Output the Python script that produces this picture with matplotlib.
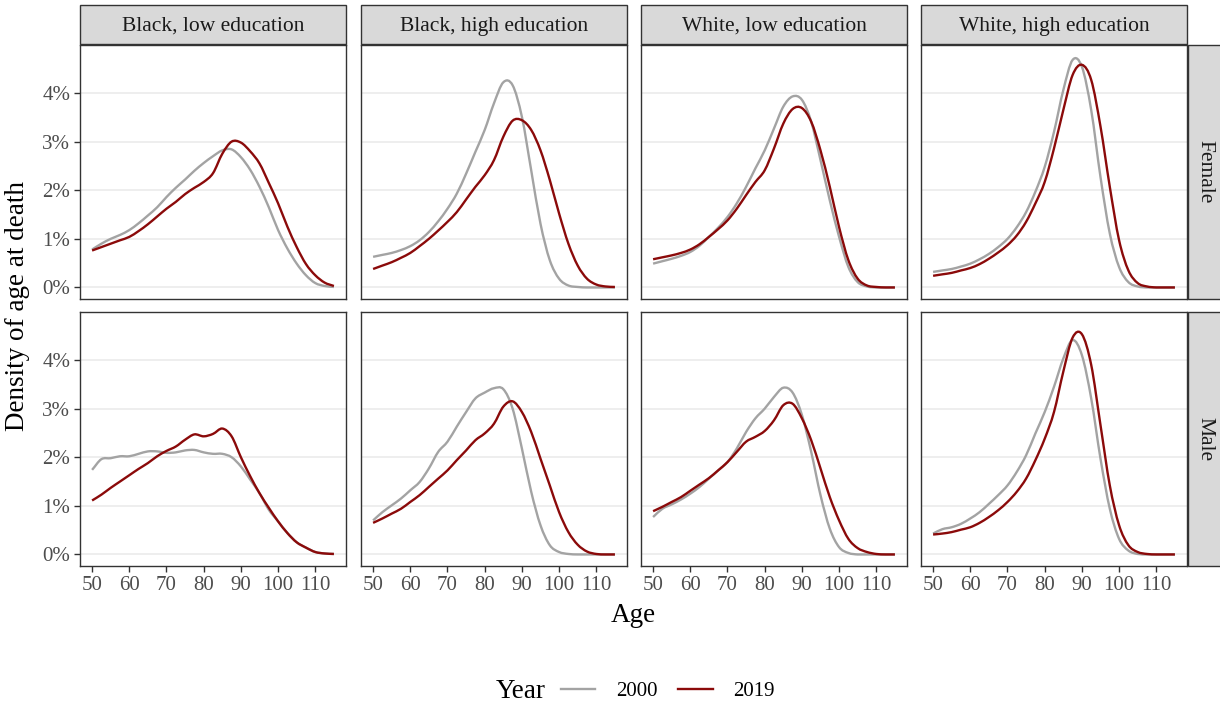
import matplotlib
matplotlib.use('Agg')
import matplotlib.pyplot as plt
from matplotlib.patches import Rectangle, PathPatch
from matplotlib.path import Path
from matplotlib.lines import Line2D
from matplotlib.ticker import FuncFormatter

plt.rcParams['font.family'] = ['Liberation Serif', 'DejaVu Serif']

ages = [50, 52.5, 55, 57.5, 60, 62.5, 65, 67.5, 70, 72.5, 75, 77.5, 80, 82.5,
        85, 87.5, 90, 92.5, 95, 97.5, 100, 102.5, 105, 107.5, 110, 112.5, 115]

groups = ['Black, low education', 'Black, high education',
          'White, low education', 'White, high education']
sexes = ['Female', 'Male']
years = ['2000', '2019']

# density of age at death, in percent
female_2000 = [
    [0.78, 0.90, 1.00, 1.08, 1.18, 1.32, 1.48, 1.65, 1.86, 2.05, 2.22, 2.40, 2.56, 2.70,
     2.82, 2.84, 2.68, 2.42, 2.07, 1.65, 1.18, 0.80, 0.49, 0.25, 0.09, 0.03, 0.01],
    [0.63, 0.67, 0.71, 0.77, 0.85, 0.97, 1.14, 1.36, 1.62, 1.93, 2.34, 2.79, 3.24, 3.79,
     4.22, 4.16, 3.51, 2.41, 1.31, 0.56, 0.18, 0.04, 0.01, 0.00, 0.00, 0.00, 0.00],
    [0.49, 0.54, 0.59, 0.65, 0.73, 0.86, 1.04, 1.23, 1.45, 1.73, 2.07, 2.45, 2.82, 3.27,
     3.72, 3.93, 3.86, 3.41, 2.62, 1.79, 1.04, 0.42, 0.11, 0.02, 0.00, 0.00, 0.00],
    [0.32, 0.35, 0.38, 0.43, 0.49, 0.58, 0.69, 0.83, 1.00, 1.24, 1.55, 1.97, 2.48, 3.20,
     4.06, 4.68, 4.54, 3.65, 2.27, 1.11, 0.42, 0.11, 0.02, 0.00, 0.00, 0.00, 0.00],
]
female_2019 = [
    [0.76, 0.83, 0.90, 0.97, 1.04, 1.16, 1.30, 1.46, 1.62, 1.76, 1.92, 2.05, 2.17, 2.35,
     2.75, 3.00, 2.98, 2.80, 2.55, 2.15, 1.73, 1.25, 0.83, 0.48, 0.25, 0.10, 0.03],
    [0.38, 0.45, 0.52, 0.61, 0.71, 0.85, 1.00, 1.17, 1.35, 1.55, 1.81, 2.07, 2.31, 2.62,
     3.10, 3.43, 3.44, 3.24, 2.82, 2.21, 1.52, 0.90, 0.45, 0.18, 0.06, 0.02, 0.01],
    [0.58, 0.62, 0.66, 0.71, 0.78, 0.89, 1.04, 1.20, 1.38, 1.62, 1.90, 2.17, 2.41, 2.86,
     3.37, 3.67, 3.69, 3.41, 2.82, 2.07, 1.24, 0.56, 0.18, 0.04, 0.01, 0.00, 0.00],
    [0.24, 0.27, 0.30, 0.35, 0.40, 0.48, 0.59, 0.72, 0.87, 1.07, 1.35, 1.73, 2.17, 2.86,
     3.65, 4.37, 4.58, 4.27, 3.31, 2.07, 0.97, 0.35, 0.09, 0.02, 0.00, 0.00, 0.00],
]
male_2000 = [
    [1.74, 1.96, 1.98, 2.02, 2.02, 2.07, 2.12, 2.12, 2.09, 2.10, 2.14, 2.15, 2.10, 2.07,
     2.07, 2.00, 1.81, 1.54, 1.26, 0.92, 0.68, 0.44, 0.25, 0.14, 0.05, 0.02, 0.01],
    [0.70, 0.87, 1.01, 1.15, 1.32, 1.49, 1.77, 2.11, 2.32, 2.63, 2.93, 3.21, 3.33, 3.42,
     3.40, 3.00, 2.18, 1.29, 0.60, 0.19, 0.05, 0.01, 0.00, 0.00, 0.00, 0.00, 0.00],
    [0.77, 0.94, 1.03, 1.13, 1.25, 1.39, 1.56, 1.73, 1.90, 2.18, 2.52, 2.80, 3.00, 3.24,
     3.43, 3.33, 2.87, 2.11, 1.22, 0.53, 0.15, 0.03, 0.00, 0.00, 0.00, 0.00, 0.00],
    [0.43, 0.52, 0.56, 0.63, 0.74, 0.87, 1.04, 1.22, 1.42, 1.70, 2.04, 2.49, 2.93, 3.45,
     4.03, 4.41, 4.10, 3.21, 1.97, 0.94, 0.32, 0.08, 0.01, 0.00, 0.00, 0.00, 0.00],
]
male_2019 = [
    [1.11, 1.23, 1.37, 1.50, 1.63, 1.76, 1.88, 2.02, 2.13, 2.22, 2.36, 2.47, 2.43, 2.48,
     2.59, 2.43, 2.00, 1.61, 1.26, 0.96, 0.68, 0.44, 0.25, 0.14, 0.05, 0.02, 0.01],
    [0.65, 0.74, 0.84, 0.94, 1.08, 1.22, 1.39, 1.56, 1.73, 1.94, 2.14, 2.35, 2.49, 2.69,
     3.04, 3.15, 2.93, 2.52, 1.97, 1.42, 0.87, 0.46, 0.20, 0.06, 0.01, 0.00, 0.00],
    [0.89, 0.98, 1.08, 1.18, 1.31, 1.44, 1.57, 1.73, 1.90, 2.11, 2.32, 2.42, 2.54, 2.76,
     3.07, 3.10, 2.80, 2.35, 1.77, 1.18, 0.70, 0.32, 0.13, 0.05, 0.01, 0.00, 0.00],
    [0.41, 0.43, 0.46, 0.51, 0.56, 0.65, 0.77, 0.91, 1.08, 1.29, 1.56, 1.94, 2.38, 2.93,
     3.76, 4.46, 4.53, 3.90, 2.66, 1.42, 0.60, 0.19, 0.05, 0.01, 0.00, 0.00, 0.00],
]

data = {('Female', '2000'): female_2000, ('Female', '2019'): female_2019,
        ('Male', '2000'): male_2000, ('Male', '2019'): male_2019}
colors = {'2000': '#A3A3A3', '2019': '#8B0A0A'}


def smooth_path(x, y):
    # catmull-rom style bezier through the points
    n = len(x)
    m = [(y[1] - y[0]) / (x[1] - x[0])]
    for k in range(1, n - 1):
        m.append((y[k + 1] - y[k - 1]) / (x[k + 1] - x[k - 1]))
    m.append((y[-1] - y[-2]) / (x[-1] - x[-2]))
    verts = [(x[0], y[0])]
    codes = [Path.MOVETO]
    for k in range(n - 1):
        h = x[k + 1] - x[k]
        verts += [(x[k] + h / 3, max(0.0, y[k] + m[k] * h / 3)),
                  (x[k + 1] - h / 3, max(0.0, y[k + 1] - m[k + 1] * h / 3)),
                  (x[k + 1], y[k + 1])]
        codes += [Path.CURVE4] * 3
    return Path(verts, codes)


W, H = 1220, 707
fig = plt.figure(figsize=(W / 100, H / 100), dpi=100)


def box(l, t, w, h):
    return [l / W, 1 - (t + h) / H, w / W, h / H]


lefts = [80, 361, 641, 921]
tops = [45, 312]
pw, ph = 266, 254
border = '#333333'

for r, sex in enumerate(sexes):
    for c, grp in enumerate(groups):
        ax = fig.add_axes(box(lefts[c], tops[r], pw, ph))
        for yr in years:
            ax.add_patch(PathPatch(smooth_path(ages, data[(sex, yr)][c]), fill=False,
                                   edgecolor=colors[yr], lw=1.7))
        ax.set_xlim(46.75, 118.25)
        ax.set_ylim(-0.2375, 4.9875)
        ax.set_yticks([0, 1, 2, 3, 4])
        ax.set_xticks([50, 60, 70, 80, 90, 100, 110])
        ax.yaxis.set_major_formatter(FuncFormatter(lambda v, p: f'{v:.0f}%'))
        ax.grid(axis='y', color='#EBEBEB', lw=1.2)
        ax.set_axisbelow(True)
        for s in ax.spines.values():
            s.set_color(border)
            s.set_linewidth(1.0)
        ax.tick_params(colors=border, labelcolor='#4D4D4D', labelsize=15,
                       length=4, width=1.0, pad=3)
        if c > 0:
            ax.tick_params(axis='y', left=False, labelleft=False)
        if r == 0:
            ax.tick_params(axis='x', bottom=False, labelbottom=False)
            # strip on top
            fig.patches.append(Rectangle((lefts[c] / W, 1 - 44 / H), pw / W, 39 / H,
                                         transform=fig.transFigure, facecolor='#D9D9D9',
                                         edgecolor=border, lw=1.0))
            fig.text((lefts[c] + pw / 2) / W, 1 - 31 / H, grp, ha='center', va='baseline',
                     fontsize=15.5, color='#1A1A1A')
    # strip on right
    fig.patches.append(Rectangle((1188 / W, 1 - (tops[r] + ph) / H), 34 / W, ph / H,
                                 transform=fig.transFigure, facecolor='#D9D9D9',
                                 edgecolor=border, lw=1.0))
    fig.text(1205 / W, 1 - (tops[r] + ph / 2) / H, sex, ha='center', va='center',
             rotation=-90, fontsize=15.5, color='#1A1A1A')

fig.text(18 / W, 1 - 306 / H, 'Density of age at death', rotation=90,
         ha='center', va='center', fontsize=19.5)
fig.text(633 / W, 1 - 615 / H, 'Age', ha='center', va='center', fontsize=19.5)

handles = [Line2D([], [], color=colors[y], lw=1.7) for y in years]
fig.text(521 / W, 1 - 691 / H, 'Year', ha='center', va='center', fontsize=19.5)
fig.legend(handles, years, loc='center', bbox_to_anchor=(668 / W, 1 - 691 / H),
           ncol=2, frameon=False, fontsize=15, handlelength=1.65,
           handletextpad=1.0, columnspacing=1.0)

fig.savefig('out.png', dpi=100)
